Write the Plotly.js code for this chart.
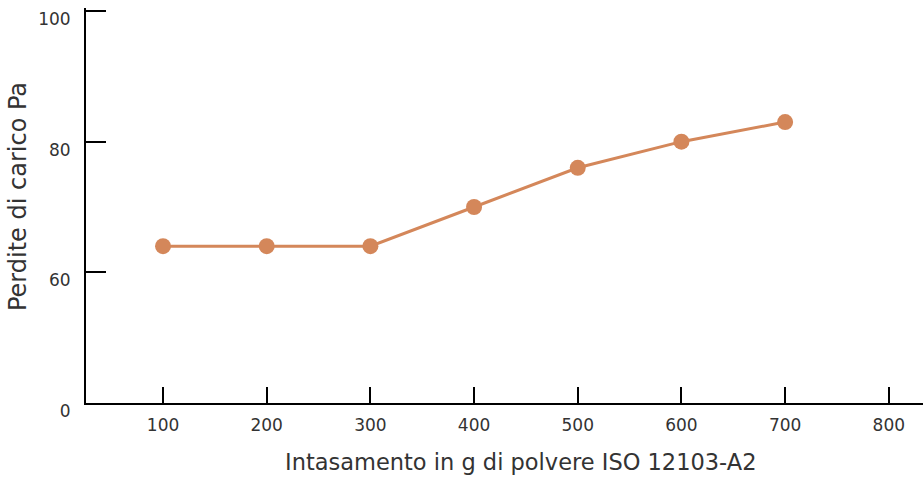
<!DOCTYPE html>
<html>
<head>
<meta charset="utf-8">
<script src="https://cdn.plot.ly/plotly-3.0.1.min.js"></script>
<style>html,body{margin:0;padding:0;background:#fff}#chart{width:923px;height:478px}</style>
</head>
<body>
<div id="chart"></div>
<script>
const dust = [100, 200, 300, 400, 500, 600, 700];
const pressureDrop = [64, 64, 64, 70, 76, 80, 83];
const xTicks = [100, 200, 300, 400, 500, 600, 700, 800];
const yTickVals = [40, 60, 80, 100];
const yTickText = ["0", "60", "80", "100"];
const xTitle = "Intasamento in g di polvere ISO 12103-A2";
const yTitle = "Perdite di carico Pa";

const fontFam = "'DejaVu Sans', sans-serif";
const trace = {
  x: dust, y: pressureDrop, type: 'scatter', mode: 'lines+markers',
  line: {color: '#D4875A', width: 3},
  marker: {color: '#D4875A', size: 16},
  hoverinfo: 'x+y'
};
const layout = {
  width: 923, height: 478,
  margin: {l: 86, r: 0, t: 8, b: 75, pad: 0},
  paper_bgcolor: '#ffffff', plot_bgcolor: '#ffffff',
  showlegend: false,
  font: {family: fontFam, color: '#333333', size: 17},
  xaxis: {
    range: [25.7, 833], tickvals: xTicks, ticktext: xTicks.map(String),
    showgrid: false, zeroline: false, showline: true, linecolor: '#000', linewidth: 2,
    ticks: 'inside', ticklen: 16, tickwidth: 2, tickcolor: '#000',
    tickfont: {family: fontFam, size: 17, color: '#333333'},
    ticklabelstandoff: 6
  },
  yaxis: {
    range: [40, 100.46], tickvals: yTickVals, ticktext: yTickText,
    showgrid: false, zeroline: false, showline: true, linecolor: '#000', linewidth: 2,
    ticks: 'inside', ticklen: 20, tickwidth: 2, tickcolor: '#000',
    tickfont: {family: fontFam, size: 17, color: '#333333'},
    ticklabelshift: 8, ticklabelstandoff: 10
  },
  annotations: [
    {text: xTitle, xref: 'paper', yref: 'paper', x: 0.5197, y: -0.1494,
     xanchor: 'center', yanchor: 'middle', showarrow: false,
     font: {family: fontFam, size: 22.5, color: '#333333'}},
    {text: yTitle, xref: 'paper', yref: 'paper', x: -0.0812, y: 0.5215, textangle: -90,
     xanchor: 'center', yanchor: 'middle', showarrow: false,
     font: {family: fontFam, size: 24, color: '#333333'}}
  ]
};
Plotly.newPlot('chart', [trace], layout, {displayModeBar: false, staticPlot: true});
</script>
</body>
</html>
